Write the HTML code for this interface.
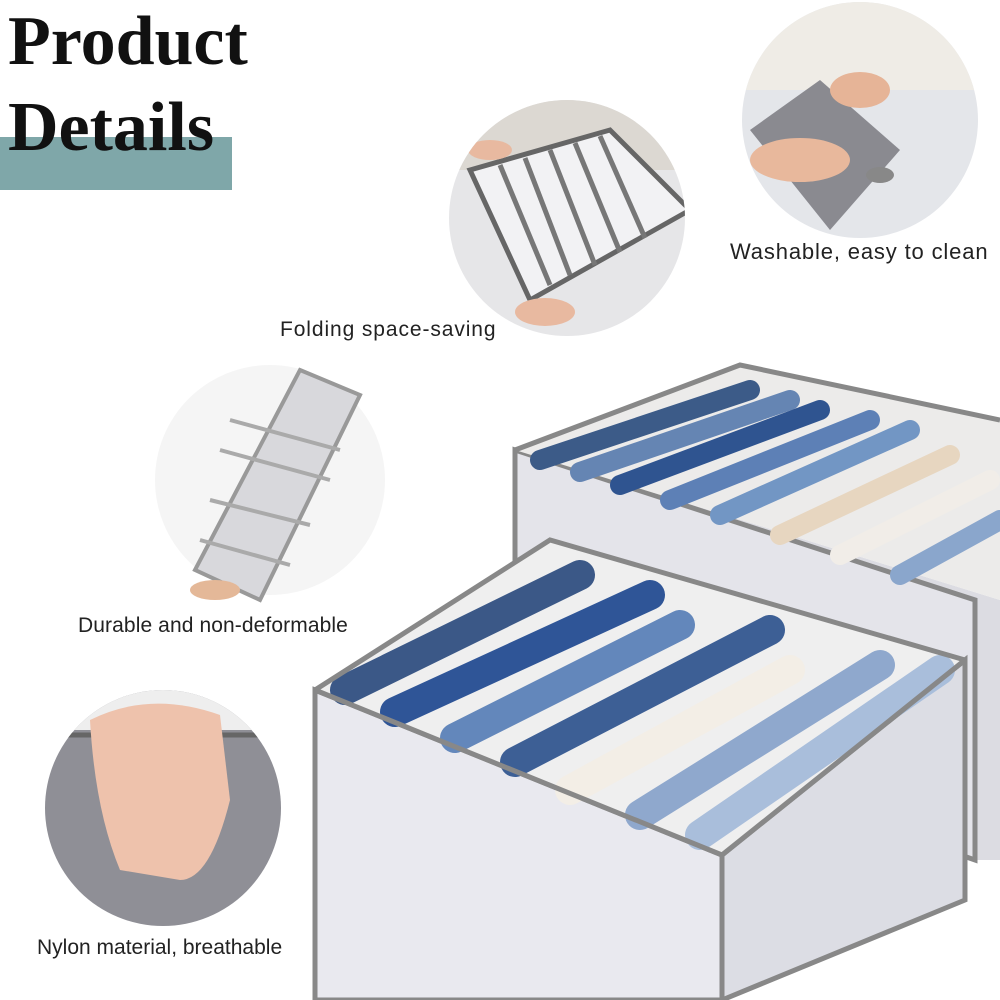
<!DOCTYPE html>
<html><head><meta charset="utf-8"><style>
html,body{margin:0;padding:0;background:#fff;}
#w{position:relative;width:1000px;height:1000px;overflow:hidden;background:#fff;font-family:"Liberation Sans",sans-serif;}
.t{position:absolute;color:#222;font-size:21px;white-space:nowrap;letter-spacing:-0.3px}
.h{position:absolute;font-family:"Liberation Serif",serif;font-weight:bold;font-size:70px;color:#111;left:8px;}
</style></head><body><div id="w">
<svg width="1000" height="1000" style="position:absolute;left:0;top:0">
<rect x="0" y="137" width="232" height="53" fill="#7fa7a9"/>
<defs>
<clipPath id="c1"><circle cx="567" cy="218" r="118"/></clipPath>
<clipPath id="c2"><circle cx="860" cy="120" r="118"/></clipPath>
<clipPath id="c4"><circle cx="163" cy="808" r="118"/></clipPath>
</defs>
<circle cx="567" cy="218" r="118" fill="#e6e6e8"/>
<g clip-path="url(#c1)">
<rect x="440" y="90" width="260" height="80" fill="#dcd8d2"/>
<polygon points="470,170 610,130 690,210 530,300" fill="#f2f2f4" stroke="#666" stroke-width="5"/>
<g stroke="#777" stroke-width="5"><line x1="500" y1="165" x2="550" y2="285"/><line x1="525" y1="158" x2="570" y2="275"/><line x1="550" y1="150" x2="595" y2="265"/><line x1="575" y1="143" x2="620" y2="252"/><line x1="600" y1="136" x2="645" y2="238"/></g>
<ellipse cx="545" cy="312" rx="30" ry="14" fill="#e8b9a0"/>
<ellipse cx="490" cy="150" rx="22" ry="10" fill="#e8b9a0"/>
</g>
<circle cx="860" cy="120" r="118" fill="#e4e6ea"/>
<g clip-path="url(#c2)">
<rect x="740" y="0" width="240" height="90" fill="#efece6"/>
<polygon points="750,130 820,80 900,150 830,230" fill="#8a8a90"/>
<ellipse cx="860" cy="90" rx="30" ry="18" fill="#e6b497"/>
<ellipse cx="800" cy="160" rx="50" ry="22" fill="#e8b89c"/>
<ellipse cx="880" cy="175" rx="14" ry="8" fill="#888"/>
</g>
<circle cx="270" cy="480" r="115" fill="#f5f5f5"/>
<polygon points="300,370 360,395 260,600 195,570" fill="#d8d8dc" stroke="#999" stroke-width="4"/>
<g stroke="#aaa" stroke-width="4"><line x1="220" y1="450" x2="330" y2="480"/><line x1="230" y1="420" x2="340" y2="450"/><line x1="210" y1="500" x2="310" y2="525"/><line x1="200" y1="540" x2="290" y2="565"/></g>
<ellipse cx="215" cy="590" rx="25" ry="10" fill="#e4b898"/>
<circle cx="163" cy="808" r="118" fill="#8f8f96"/>
<g clip-path="url(#c4)">
<rect x="40" y="690" width="250" height="40" fill="#eeeeee"/>
<line x1="40" y1="735" x2="290" y2="735" stroke="#666" stroke-width="5"/>
<path d="M90,720 Q150,690 220,715 L230,800 Q210,880 180,880 L120,870 Q95,810 90,720Z" fill="#eec2ac"/>
</g>
<polygon points="515,450 1000,600 1000,860 975,860 975,600" fill="#dcdce2"/>
<polygon points="515,450 975,600 975,860 515,700" fill="#e4e4ea" stroke="#888" stroke-width="5"/>
<polygon points="515,450 740,365 1000,420 1000,600" fill="#ecebea"/>
<g stroke-width="20" stroke-linecap="round">
<line x1="540" y1="460" x2="750" y2="390" stroke="#3c5b88"/>
<line x1="580" y1="472" x2="790" y2="400" stroke="#6585b3"/>
<line x1="620" y1="485" x2="820" y2="410" stroke="#2f5490"/>
<line x1="670" y1="500" x2="870" y2="420" stroke="#5d80b6"/>
<line x1="720" y1="515" x2="910" y2="430" stroke="#7296c4"/>
<line x1="780" y1="535" x2="950" y2="455" stroke="#e7d6c0"/>
<line x1="840" y1="555" x2="990" y2="480" stroke="#f1ede8"/>
<line x1="900" y1="575" x2="1000" y2="520" stroke="#8aa6cc"/>
</g>
<polyline points="515,450 740,365 1000,420" fill="none" stroke="#888" stroke-width="5"/>
<polygon points="722,855 965,660 965,900 722,1000" fill="#dcdde4" stroke="#888" stroke-width="5"/>
<polygon points="315,690 722,855 722,1000 315,1000" fill="#e9e9ef" stroke="#888" stroke-width="5"/>
<polygon points="315,690 550,540 965,660 722,855" fill="#efefef"/>
<g stroke-width="30" stroke-linecap="round">
<line x1="345" y1="690" x2="580" y2="575" stroke="#3b5887"/>
<line x1="395" y1="712" x2="650" y2="595" stroke="#2f5597"/>
<line x1="455" y1="738" x2="680" y2="625" stroke="#6387bb"/>
<line x1="515" y1="762" x2="770" y2="630" stroke="#3d5f95"/>
<line x1="570" y1="790" x2="790" y2="670" stroke="#f3eee6"/>
<line x1="640" y1="815" x2="880" y2="665" stroke="#8fa8cd"/>
<line x1="700" y1="835" x2="940" y2="670" stroke="#a9bedb"/>
</g>
<polyline points="315,690 550,540 965,660" fill="none" stroke="#888" stroke-width="5"/>
<line x1="315" y1="690" x2="722" y2="855" stroke="#888" stroke-width="5"/>
<line x1="722" y1="855" x2="965" y2="660" stroke="#888" stroke-width="5"/>
</svg>
<div class="h" style="top:2px">Product</div>
<div class="h" style="top:88px">Details</div>
<div class="t" style="left:730px;top:239px;font-size:22px;letter-spacing:0.85px">Washable, easy to clean</div>
<div class="t" style="left:280px;top:318px;letter-spacing:0.9px">Folding space-saving</div>
<div class="t" style="left:78px;top:614px;letter-spacing:0.1px">Durable and non-deformable</div>
<div class="t" style="left:37px;top:936px;letter-spacing:0px">Nylon material, breathable</div>
</div></body></html>
